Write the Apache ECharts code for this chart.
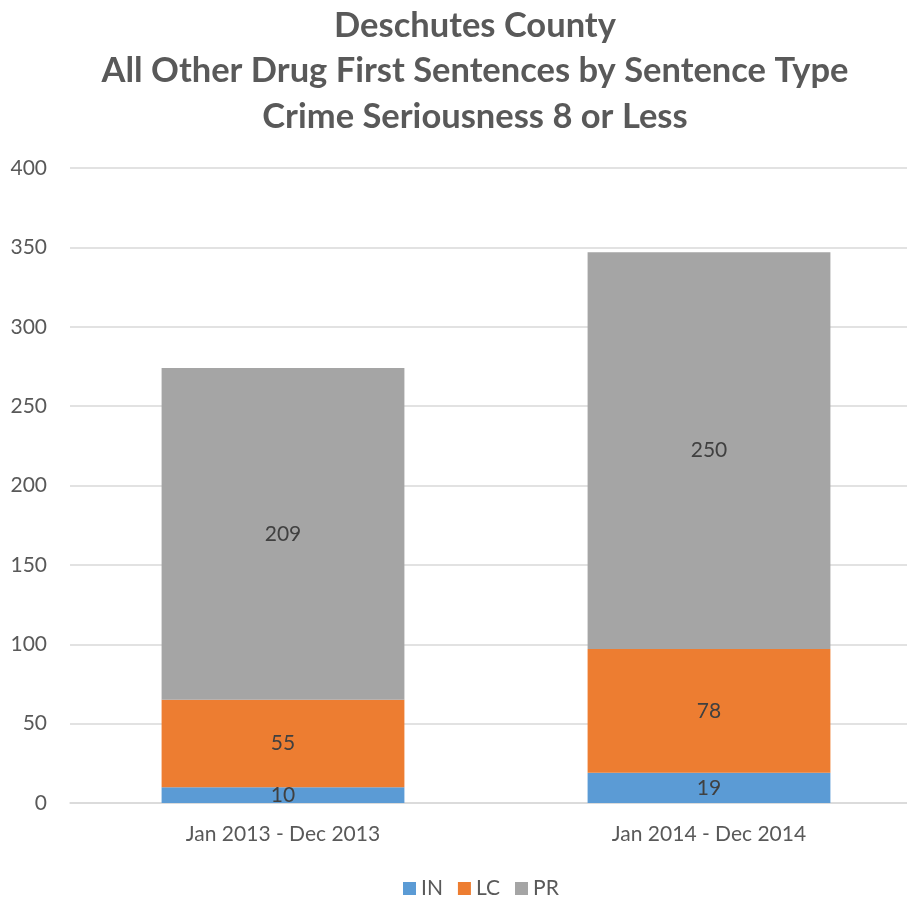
<!DOCTYPE html>
<html><head><meta charset="utf-8">
<script src="https://cdn.jsdelivr.net/npm/echarts@6/dist/echarts.min.js"></script>
<style>html,body{margin:0;padding:0;background:#fff}#c{width:907px;height:899px}</style>
</head><body><div id="c"></div>
<script>
const categories = ['Jan 2013 - Dec 2013', 'Jan 2014 - Dec 2014'];
const inValues = [10, 19];
const lcValues = [55, 78];
const prValues = [209, 250];
const yTicks = [0, 50, 100, 150, 200, 250, 300, 350, 400];

const FONT = 'Lato';
const chart = echarts.init(document.getElementById('c'), null, {renderer: 'canvas'});
const lbl = {show: true, position: 'inside', color: '#404040', fontSize: 21, fontFamily: FONT};
chart.setOption({
  animation: false,
  title: {
    text: 'Deschutes County\nAll Other Drug First Sentences by Sentence Type\nCrime Seriousness 8 or Less',
    left: 470, textAlign: 'center', top: -2,
    textStyle: {fontFamily: FONT, fontWeight: 'bold', fontSize: 34.5, color: '#595959', lineHeight: 45.5, align: 'center'}
  },
  legend: {
    bottom: -5, left: 398, itemWidth: 13, itemHeight: 13, itemGap: 15,
    icon: 'rect',
    textStyle: {fontFamily: FONT, fontSize: 21, color: '#595959'},
    data: ['IN', 'LC', 'PR']
  },
  grid: {left: 70, top: 168, width: 852, height: 635, containLabel: false, outerBoundsMode: 'none'},
  xAxis: {
    type: 'category', data: categories,
    axisLine: {lineStyle: {color: '#D9D9D9', width: 1.5}},
    axisTick: {show: false},
    axisLabel: {fontFamily: FONT, fontSize: 21, color: '#595959', margin: 21}
  },
  yAxis: {
    type: 'value', min: yTicks[0], max: yTicks[yTicks.length - 1], interval: 50,
    axisLine: {show: false}, axisTick: {show: false},
    splitLine: {lineStyle: {color: '#D9D9D9', width: 1.5}},
    axisLabel: {fontFamily: FONT, fontSize: 21, color: '#595959', margin: 23, align: 'right'}
  },
  series: [
    {name: 'IN', type: 'bar', stack: 's', data: inValues, barWidth: '57%', itemStyle: {color: '#5B9BD5'}, label: lbl},
    {name: 'LC', type: 'bar', stack: 's', data: lcValues, itemStyle: {color: '#ED7D31'}, label: lbl},
    {name: 'PR', type: 'bar', stack: 's', data: prValues, itemStyle: {color: '#A5A5A5'}, label: lbl}
  ]
});
</script></body></html>
